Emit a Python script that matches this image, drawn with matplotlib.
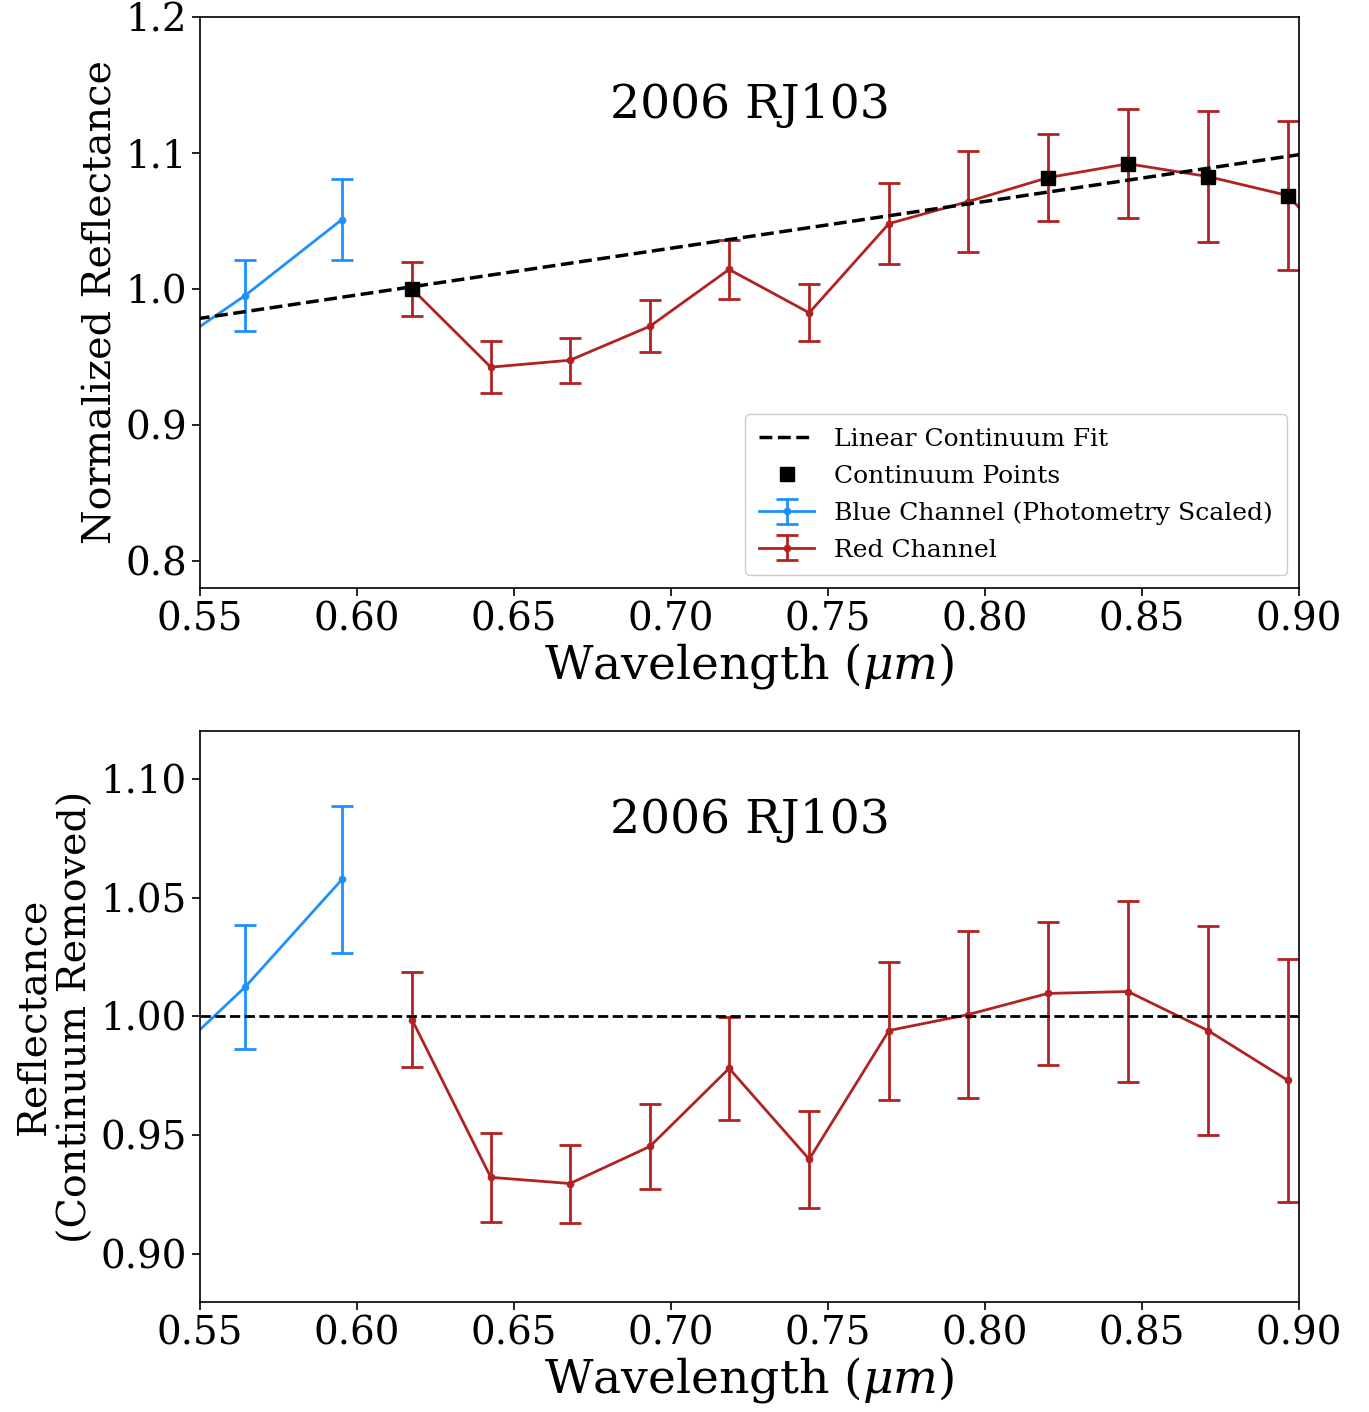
import matplotlib
matplotlib.use("Agg")
import matplotlib.pyplot as plt
import numpy as np

plt.rcParams['font.family'] = ['DejaVu Serif']
plt.rcParams['mathtext.fontset'] = 'dejavuserif'

title = "2006 RJ103"

# ---- top panel: normalized reflectance ----
blue_x = [0.534, 0.5643, 0.5952]
blue_y = [0.947, 0.995, 1.051]
blue_err = [0.026, 0.026, 0.030]

red_x = [0.6175, 0.6426, 0.6678, 0.6933, 0.7185, 0.744, 0.7694, 0.7946,
         0.820, 0.8455, 0.871, 0.8965, 0.9217]
red_y = [1.000, 0.9424, 0.9475, 0.9725, 1.0143, 0.9824, 1.048, 1.0642,
         1.0818, 1.092, 1.0826, 1.0686, 1.005]
red_err = [0.020, 0.019, 0.0165, 0.019, 0.022, 0.021, 0.030, 0.037,
           0.032, 0.040, 0.048, 0.055, 0.055]

cont_x = [0.6175, 0.820, 0.8455, 0.871, 0.8965]
cont_y = [1.000, 1.0818, 1.092, 1.0826, 1.0686]

fit_slope = 0.344
fit_intercept = 0.7891

# ---- bottom panel: continuum removed ----
blue_x2 = [0.534, 0.5643, 0.5952]
blue_y2 = [0.9746, 1.0123, 1.0576]
blue_err2 = [0.026, 0.026, 0.031]

red_x2 = [0.6175, 0.6426, 0.6678, 0.6933, 0.7185, 0.744, 0.7694, 0.7946,
          0.820, 0.8455, 0.871, 0.8965]
red_y2 = [0.9987, 0.9324, 0.9298, 0.9454, 0.9782, 0.940, 0.9941, 1.0008,
          1.0097, 1.0105, 0.9941, 0.9731]
red_err2 = [0.020, 0.0187, 0.0164, 0.018, 0.0216, 0.0204, 0.029, 0.035,
            0.030, 0.038, 0.044, 0.051]

xticks = [0.55, 0.60, 0.65, 0.70, 0.75, 0.80, 0.85, 0.90]
yticks_top = [0.8, 0.9, 1.0, 1.1, 1.2]
yticks_bot = [0.90, 0.95, 1.00, 1.05, 1.10]

BLUE = '#1E90FF'
RED = '#B22222'

fig = plt.figure(figsize=(13.69, 14.12), dpi=100)
ax1 = fig.add_axes([0.1461, 0.5836, 0.8028, 0.4044])
ax2 = fig.add_axes([0.1461, 0.0779, 0.8028, 0.4044])

eb_kw = dict(marker='o', markersize=4.5, linewidth=2.0, elinewidth=2.0,
             capsize=8, capthick=2.0)

fx = np.array([0.52, 0.95])
ax1.plot(fx, fit_slope * fx + fit_intercept, 'k--', linewidth=2.5,
         label='Linear Continuum Fit', zorder=3)
ax1.plot(cont_x, cont_y, 's', color='black', markersize=10,
         linestyle='none', label='Continuum Points', zorder=5)
ax1.errorbar(blue_x, blue_y, yerr=blue_err, color=BLUE,
             label='Blue Channel (Photometry Scaled)', zorder=2, **eb_kw)
ax1.errorbar(red_x, red_y, yerr=red_err, color=RED,
             label='Red Channel', zorder=2, **eb_kw)

ax1.set_xlim(0.55, 0.90)
ax1.set_ylim(0.78, 1.20)
ax1.set_xticks(xticks)
ax1.set_xticklabels([f"{v:.2f}" for v in xticks])
ax1.set_yticks(yticks_top)
ax1.set_yticklabels([f"{v:.1f}" for v in yticks_top])
ax1.set_xlabel(r'Wavelength ($\mu m$)', fontsize=34, labelpad=2)
ax1.set_ylabel('Normalized Reflectance', fontsize=28.5)
ax1.text(0.5, 0.845, title, transform=ax1.transAxes, ha='center',
         va='center', fontsize=34)
ax1.legend(loc='lower right', fontsize=18, borderpad=0.55,
           handlelength=2.2, labelspacing=0.55, framealpha=1)

ax2.axhline(1.0, color='black', linestyle='--', linewidth=2.0, zorder=3)
ax2.errorbar(blue_x2, blue_y2, yerr=blue_err2, color=BLUE, zorder=2, **eb_kw)
ax2.errorbar(red_x2, red_y2, yerr=red_err2, color=RED, zorder=2, **eb_kw)
ax2.set_xlim(0.55, 0.90)
ax2.set_ylim(0.88, 1.12)
ax2.set_xticks(xticks)
ax2.set_xticklabels([f"{v:.2f}" for v in xticks])
ax2.set_yticks(yticks_bot)
ax2.set_yticklabels([f"{v:.2f}" for v in yticks_bot])
ax2.set_xlabel(r'Wavelength ($\mu m$)', fontsize=34, labelpad=2)
ax2.set_ylabel('Reflectance\n(Continuum Removed)', fontsize=28.5,
               linespacing=1.2)
ax2.text(0.5, 0.844, title, transform=ax2.transAxes, ha='center',
         va='center', fontsize=34)

for ax in (ax1, ax2):
    ax.tick_params(labelsize=28, length=6, width=1.2)
    for s in ax.spines.values():
        s.set_linewidth(1.2)

fig.savefig('out.png', dpi=100)
